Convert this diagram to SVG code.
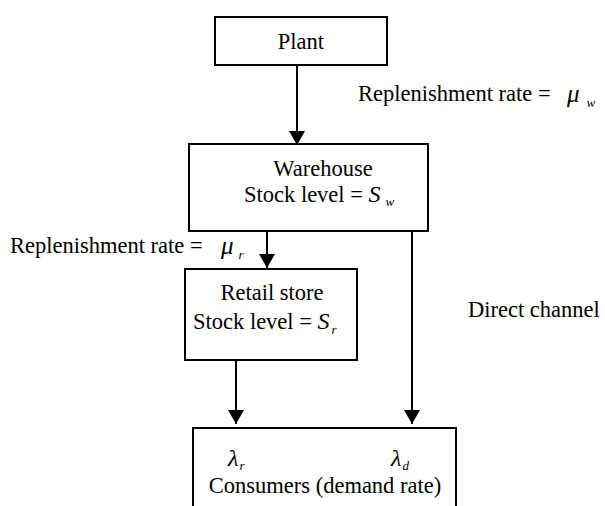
<svg xmlns="http://www.w3.org/2000/svg" width="605" height="506" viewBox="0 0 605 506">
<defs>
<style>
.box{fill:#fff;stroke:#000;stroke-width:2}
.t{font-family:"Liberation Serif","Times New Roman",serif;font-size:22.5px;fill:#000}
.m{font-family:"Liberation Serif","Times New Roman",serif;font-style:italic;fill:#000}
.c{stroke:#000;stroke-width:2;fill:none;marker-end:url(#ah)}
</style>
<marker id="ah" viewBox="0 0 14 16" refX="14" refY="8" markerWidth="14" markerHeight="16" markerUnits="userSpaceOnUse" orient="auto">
<path d="M0,0 L14,8 L0,16 Z" fill="#000"/>
</marker>
</defs>
<rect width="605" height="506" fill="#fff"/>
<g id="connectors">
<line class="c" x1="297" y1="65" x2="297" y2="145"/>
<line class="c" x1="267" y1="231" x2="267" y2="268"/>
<line class="c" x1="236" y1="360" x2="236" y2="424"/>
<line class="c" x1="412" y1="231" x2="412" y2="424"/>
</g>
<g id="plant">
<rect class="box" x="215" y="17" width="172" height="48"/>
<text class="t" x="301" y="49" text-anchor="middle">Plant</text>
</g>
<g id="warehouse">
<rect class="box" x="189" y="144" width="239" height="87"/>
<text class="t" x="323" y="176" text-anchor="middle">Warehouse</text>
<text class="t" x="244" y="202">Stock level = <tspan class="m" font-size="24">S</tspan><tspan class="m" font-size="13" dx="5" dy="4">w</tspan></text>
</g>
<g id="retail">
<rect class="box" x="185" y="269" width="172" height="91"/>
<text class="t" x="272" y="300" text-anchor="middle">Retail store</text>
<text class="t" x="193" y="329">Stock level = <tspan class="m" font-size="24">S</tspan><tspan class="m" font-size="13" dx="2" dy="5">r</tspan></text>
</g>
<g id="consumers">
<rect class="box" x="193" y="428" width="263" height="90"/>
<text class="m" x="228" y="466" font-size="24">λ<tspan font-size="13" dx="1" dy="4">r</tspan></text>
<text class="m" x="391" y="466" font-size="24">λ<tspan font-size="13" dx="1" dy="4">d</tspan></text>
<text class="t" x="325" y="493" text-anchor="middle">Consumers (demand rate)</text>
</g>
<g id="labels">
<text class="t" x="358" y="101">Replenishment rate = </text>
<text class="m" x="567" y="102" font-size="25">μ<tspan font-size="13" dx="7" dy="5">w</tspan></text>
<text class="t" x="10" y="253">Replenishment rate = </text>
<text class="m" x="221" y="254" font-size="25">μ<tspan font-size="13" dx="5" dy="5">r</tspan></text>
<text class="t" x="468" y="317">Direct channel</text>
</g>
</svg>
